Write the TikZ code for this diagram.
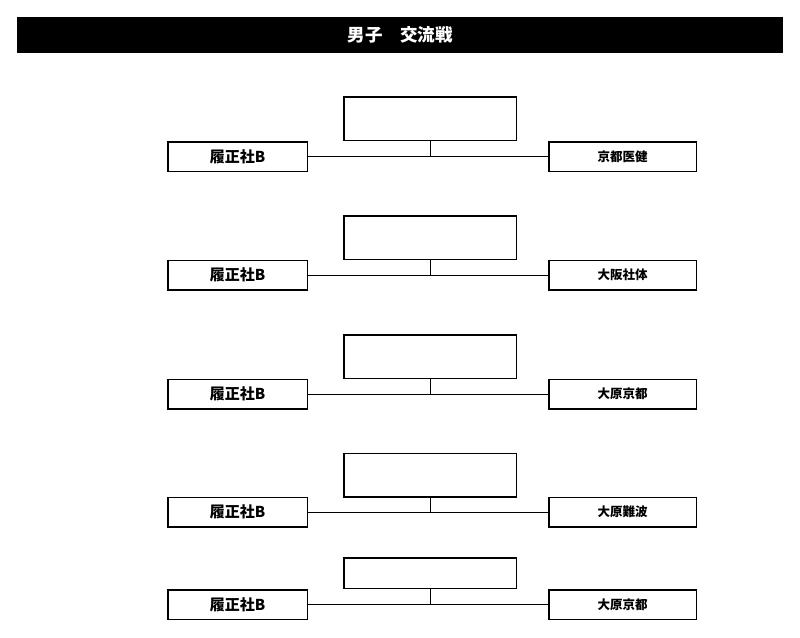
\documentclass[tikz,border=0pt]{standalone}
\usepackage{fontspec}
\newfontfamily\jpfont{Noto Sans CJK JP}
\usetikzlibrary{positioning}

\begin{document}
\begin{tikzpicture}[x=1pt,y=-1pt,line width=1.5pt]
    \tikzstyle{every node}=[inner sep=0pt]
    \tikzstyle{home}=[draw,minimum width=139.5pt,minimum height=29.5pt,font=\jpfont\bfseries\fontsize{15}{15}\selectfont]
    \tikzstyle{away}=[draw,minimum width=147.5pt,minimum height=29.5pt,font=\jpfont\bfseries\fontsize{12.5}{12.5}\selectfont]
    \tikzstyle{score}=[draw,minimum width=172.5pt,minimum height=43.5pt]
    \tikzstyle{link}=[line width=0.9pt]
    \useasboundingbox (0,0) rectangle (800,637);

    \node[fill=black,text=white,minimum width=766pt,minimum height=36pt,font=\jpfont\bfseries\fontsize{17.5}{17.5}\selectfont] (title) at (400,35) {男子　交流戦};

    \node[score] (S1) at (430,118.5) {};
    \node[home] (H1) at (237.5,156.5) {履正社B};
    \node[away] (A1) at (622.5,156.5) {京都医健};

    \node[score] (S2) at (430,237.5) {};
    \node[home] (H2) at (237.5,275) {履正社B};
    \node[away] (A2) at (622.5,275) {大阪社体};

    \node[score] (S3) at (430,356.5) {};
    \node[home] (H3) at (237.5,394) {履正社B};
    \node[away] (A3) at (622.5,394) {大原京都};

    \node[score] (S4) at (430,475) {};
    \node[home] (H4) at (237.5,512) {履正社B};
    \node[away] (A4) at (622.5,512) {大原難波};

    \node[score,minimum height=30.5pt] (S5) at (430,573) {};
    \node[home] (H5) at (237.5,604.5) {履正社B};
    \node[away] (A5) at (622.5,604.5) {大原京都};

    \draw[link] (H1) -- (A1) (S1) -- (S1 |- H1);
    \draw[link] (H2) -- (A2) (S2) -- (S2 |- H2);
    \draw[link] (H3) -- (A3) (S3) -- (S3 |- H3);
    \draw[link] (H4) -- (A4) (S4) -- (S4 |- H4);
    \draw[link] (H5) -- (A5) (S5) -- (S5 |- H5);
\end{tikzpicture}
\end{document}
